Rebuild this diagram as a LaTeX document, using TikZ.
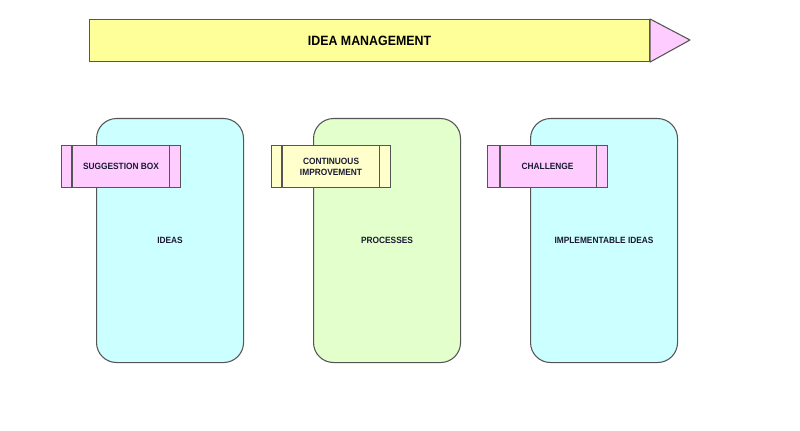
\documentclass[tikz,border=0pt]{standalone}
\usepackage{fontspec}
\setmainfont[FakeStretch=0.92]{Liberation Sans}
\definecolor{edge}{HTML}{555555}
\definecolor{yel}{HTML}{FFFF99}
\definecolor{pinkf}{HTML}{FFCCFF}
\definecolor{cyanf}{HTML}{CCFFFF}
\definecolor{greenf}{HTML}{E3FFCC}
\definecolor{paley}{HTML}{FFFFCC}
\definecolor{txt}{HTML}{1A1A33}
\begin{document}
\begin{tikzpicture}[x=0.75pt,y=-0.75pt,
  bigbox/.style={draw=edge,line width=0.8pt,rounded corners=15pt,minimum width=147*0.75pt,minimum height=244*0.75pt,inner sep=0pt,text=txt,font=\fontsize{6.8}{8}\selectfont\bfseries},
  tagbox/.style={draw=edge,line width=0.8pt,minimum width=119*0.75pt,minimum height=42*0.75pt,inner sep=0pt,align=center,text=txt,font=\fontsize{6.8}{8.2}\selectfont\bfseries},
  bar/.style={draw=edge,line width=0.8pt}]
\useasboundingbox (0,0) rectangle (800,431);
% banner
\node[bar,fill=yel,minimum width=560*0.75pt,minimum height=42*0.75pt,inner sep=0pt,anchor=north west,font=\fontsize{10.1}{12}\selectfont\bfseries] (banner) at (89,19) {IDEA MANAGEMENT};
\coordinate (tip) at (690,40);
\draw[bar,fill=pinkf,line join=round] (banner.north east) -- (tip) -- (banner.south east) -- cycle;
% big boxes
\node[bigbox,fill=cyanf,anchor=north west] (ideas) at (96,118) {IDEAS};
\node[bigbox,fill=greenf,anchor=north west] (proc) at (313,118) {PROCESSES};
\node[bigbox,fill=cyanf,anchor=north west] (impl) at (530,118) {IMPLEMENTABLE IDEAS};
% tags
\node[tagbox,fill=pinkf,anchor=north west] (sugg) at (61,145) {SUGGESTION BOX};
\node[tagbox,fill=paley,anchor=north west] (cont) at (271,145) {CONTINUOUS\\IMPROVEMENT};
\node[tagbox,fill=pinkf,anchor=north west,minimum width=120*0.75pt] (chal) at (487,145) {CHALLENGE};
\draw[bar] ([xshift=11*0.75pt]sugg.north west) -- ([xshift=11*0.75pt]sugg.south west);
\draw[bar] ([xshift=-12*0.75pt]sugg.north east) -- ([xshift=-12*0.75pt]sugg.south east);
\draw[bar] ([xshift=11*0.75pt]cont.north west) -- ([xshift=11*0.75pt]cont.south west);
\draw[bar] ([xshift=-12*0.75pt]cont.north east) -- ([xshift=-12*0.75pt]cont.south east);
\draw[bar] ([xshift=13*0.75pt]chal.north west) -- ([xshift=13*0.75pt]chal.south west);
\draw[bar] ([xshift=-12*0.75pt]chal.north east) -- ([xshift=-12*0.75pt]chal.south east);
\end{tikzpicture}
\end{document}
